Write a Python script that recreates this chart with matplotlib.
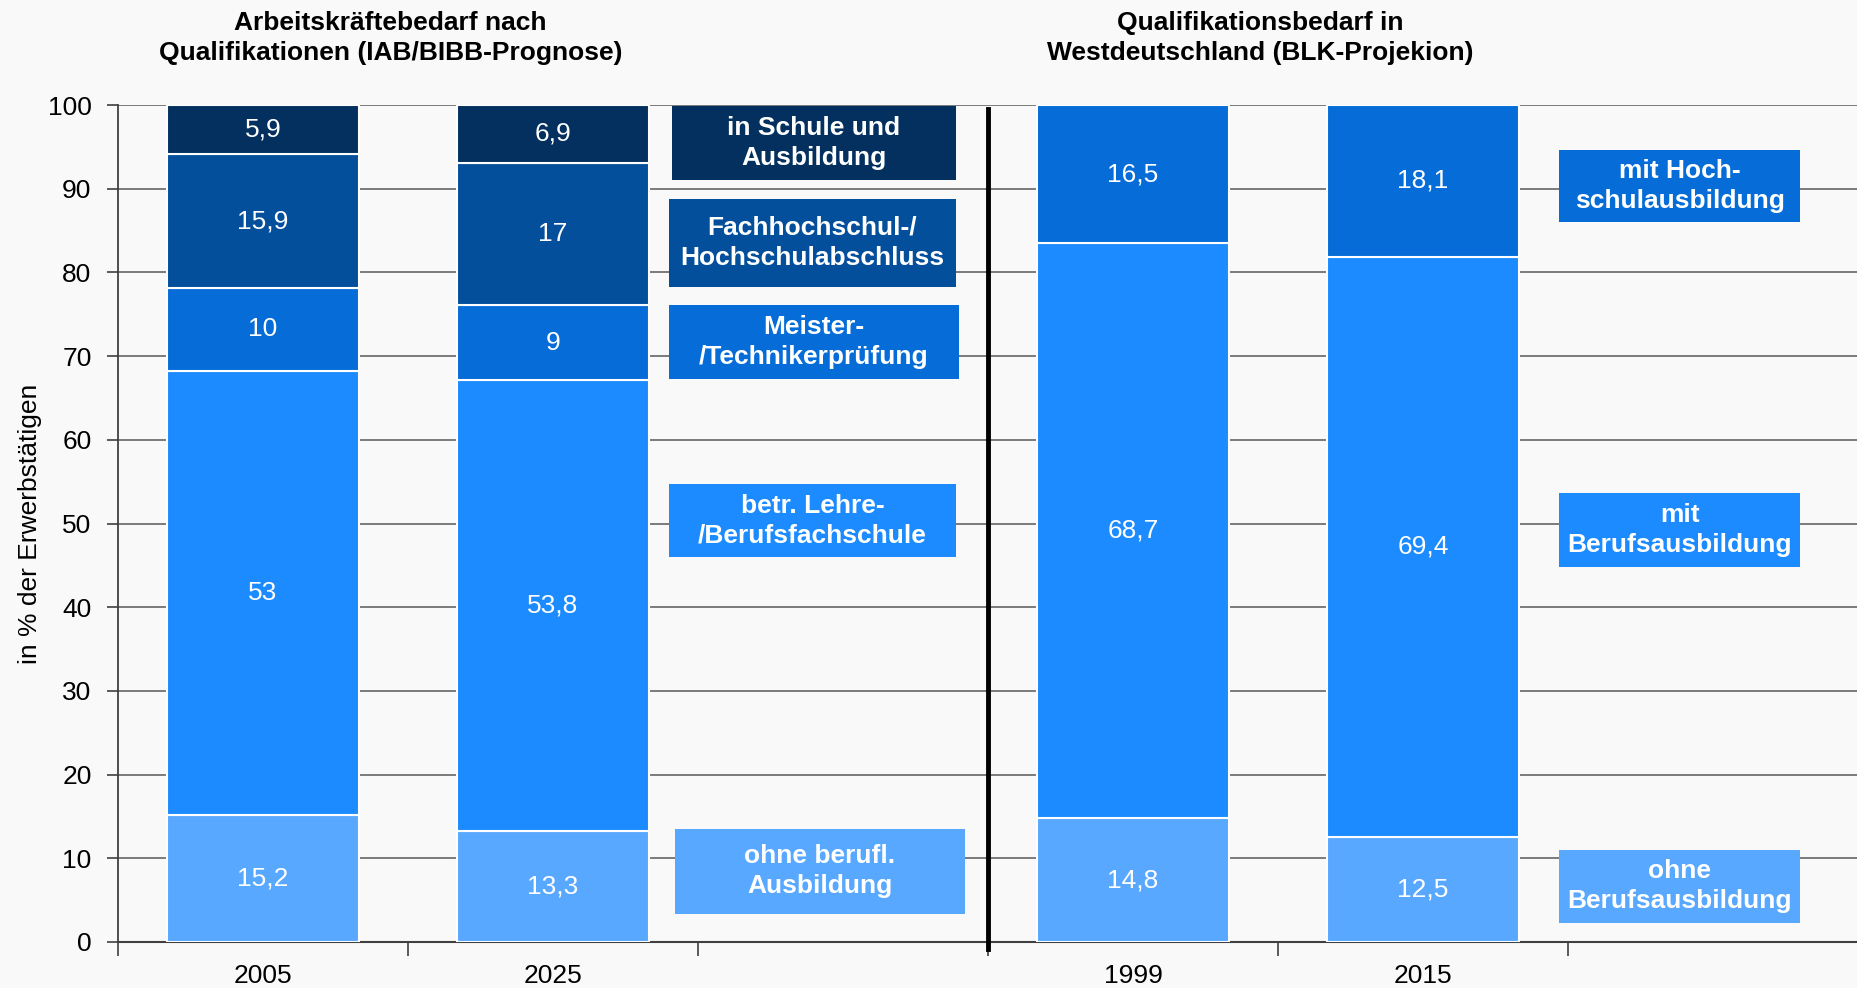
import numpy as np
import matplotlib
matplotlib.use("Agg")
import matplotlib.pyplot as plt
from matplotlib.patches import Rectangle

plt.rcParams['font.family'] = ['Liberation Sans', 'DejaVu Sans']

# data
years = ["2005", "2025", "", "1999", "2015", ""]

left_pos = [0, 1]
left_segments = ["ohne berufl.\nAusbildung", "betr. Lehre-\n/Berufsfachschule",
                 "Meister-\n/Technikerprüfung", "Fachhochschul-/\nHochschulabschluss",
                 "in Schule und\nAusbildung"]
left_values = [
    [15.2, 13.3],
    [53, 53.8],
    [10, 9],
    [15.9, 17],
    [5.9, 6.9],
]
left_text = [["15,2", "13,3"], ["53", "53,8"], ["10", "9"], ["15,9", "17"], ["5,9", "6,9"]]

right_pos = [3, 4]
right_segments = ["ohne\nBerufsausbildung", "mit\nBerufsausbildung", "mit Hoch-\nschulausbildung"]
right_values = [
    [14.8, 12.5],
    [68.7, 69.4],
    [16.5, 18.1],
]
right_text = [["14,8", "12,5"], ["68,7", "69,4"], ["16,5", "18,1"]]

left_colors = ["#58a8ff", "#1b8bff", "#056cd8", "#034f9b", "#03305f"]
right_colors = ["#58a8ff", "#1b8bff", "#056cd8"]

# legend boxes (x0, x1, y0, y1) in data units
left_boxes = [(1.42, 2.42, 3.4, 13.5), (1.40, 2.39, 46.0, 54.7), (1.40, 2.40, 67.3, 76.1),
              (1.40, 2.39, 78.3, 88.8), (1.41, 2.39, 91.1, 99.9)]
right_boxes = [(4.47, 5.30, 2.3, 11.0), (4.47, 5.30, 44.8, 53.7), (4.47, 5.30, 86.0, 94.6)]

bg = "#f9f9f9"
fig = plt.figure(figsize=(18.58, 9.88), dpi=100, facecolor=bg)
ax = fig.add_axes([0.0635, 0.0466, 0.9365, 0.847], facecolor=bg)

width = 0.665


def draw_group(pos, values, texts, colors):
    bottom = np.zeros(len(pos))
    for vals, txts, col in zip(values, texts, colors):
        ax.bar(pos, vals, width, bottom=bottom, color=col, edgecolor="white",
               linewidth=1.5, zorder=3)
        for p, v, b, t in zip(pos, vals, bottom, txts):
            ax.text(p, b + v / 2, t, ha="center", va="center", color="white",
                    fontsize=19, zorder=4)
        bottom = bottom + np.array(vals)


def draw_boxes(boxes, labels, colors):
    for (x0, x1, y0, y1), lab, col in zip(boxes, labels, colors):
        ax.add_patch(Rectangle((x0, y0), x1 - x0, y1 - y0, facecolor=col,
                               edgecolor="none", zorder=3))
        ax.text((x0 + x1) / 2, (y0 + y1) / 2, lab, ha="center", va="center",
                color="white", fontsize=19, fontweight="bold", zorder=4,
                linespacing=1.3)


draw_group(left_pos, left_values, left_text, left_colors)
draw_group(right_pos, right_values, right_text, right_colors)
draw_boxes(left_boxes, left_segments, left_colors)
draw_boxes(right_boxes, right_segments, right_colors)

# separator line
ax.plot([2.5, 2.5], [-0.8, 99.5], color="black", linewidth=3.5, zorder=5, clip_on=False)

ax.set_xlim(-0.5, 5.5)
ax.set_ylim(0, 100)
ax.set_yticks(np.arange(0, 101, 10))
ax.yaxis.grid(True, color="#707070", linewidth=1.3, zorder=0)
ax.set_axisbelow(True)

ax.set_xticks(range(6))
ax.set_xticklabels(years)
ax.set_xticks(np.arange(-0.5, 5.6, 1), minor=True)
ax.tick_params(axis="x", which="major", length=0, labelsize=19, pad=16)
ax.tick_params(axis="x", which="minor", length=10, width=1.2, color="#404040")
ax.tick_params(axis="y", length=8, width=1.2, color="#404040", labelsize=19, pad=11)

for s in ["top", "right"]:
    ax.spines[s].set_visible(False)
ax.spines["left"].set_color("#404040")
ax.spines["left"].set_linewidth(1.3)
ax.spines["bottom"].set_color("#404040")
ax.spines["bottom"].set_linewidth(1.5)

ax.set_ylabel("in % der Erwerbstätigen", fontsize=19, labelpad=4)

ax.text(0.44, 1.08, "Arbeitskräftebedarf nach\nQualifikationen (IAB/BIBB-Prognose)",
        transform=ax.get_xaxis_transform(), ha="center", va="center",
        fontsize=19, fontweight="bold", linespacing=1.3)
ax.text(3.44, 1.08, "Qualifikationsbedarf in\nWestdeutschland (BLK-Projekion)",
        transform=ax.get_xaxis_transform(), ha="center", va="center",
        fontsize=19, fontweight="bold", linespacing=1.3)

fig.savefig("out.png", dpi=100, facecolor=bg)
